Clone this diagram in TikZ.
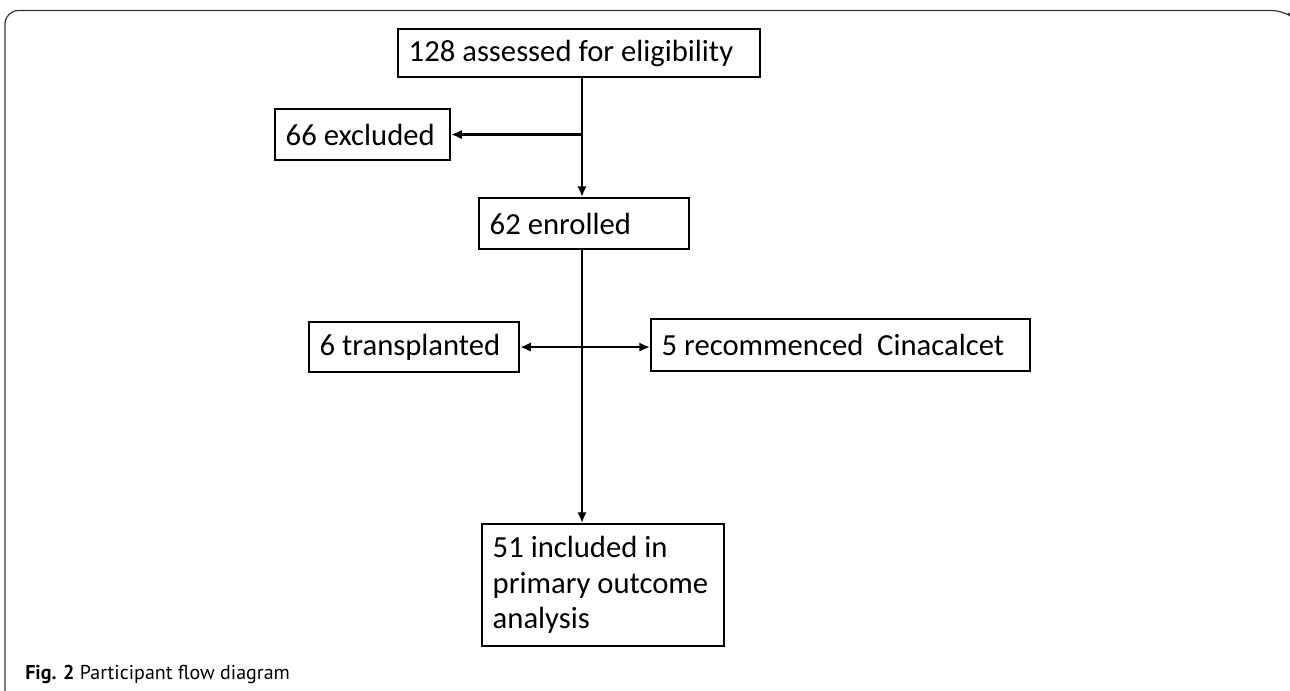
\documentclass[tikz,border=0pt]{standalone}
\usepackage{fontspec}
\setmainfont{Carlito}
\newfontfamily\capfont{PT Sans}
\usetikzlibrary{arrows.meta}
\newcommand\lbox[2]{\makebox[#1][l]{#2}}
\begin{document}
\begin{tikzpicture}[x=0.75pt,y=-0.75pt,
  fbox/.style={draw, line width=1.6pt, anchor=north west, inner xsep=8pt, inner ysep=0pt,
    font=\fontsize{23}{26.5}\selectfont},
  conn/.style={line width=1.6pt},
  tip/.style={-{Latex[length=8pt,width=7pt]}}
]
\useasboundingbox (0,0) rectangle (1290,691);
\draw[line width=0.9pt, black!80, rounded corners=10pt] (5,691) -- (5,10.5) -- (1285,10.5) -- (1288,13);
\node[fbox, minimum width=271.5pt, minimum height=36pt] (elig) at (397,28) {\lbox{255.5pt}{128 assessed for eligibility}};
\node[fbox, minimum width=131.25pt, minimum height=38.25pt] (excl) at (274,108) {\lbox{115.25pt}{66 excluded}};
\node[fbox, minimum width=157.5pt, minimum height=38.25pt] (enr) at (478,197) {\lbox{141.5pt}{62 enrolled}};
\node[fbox, minimum width=157.5pt, minimum height=37.5pt] (trans) at (308,321) {\lbox{141.5pt}{6 transplanted}};
\node[fbox, minimum width=284.25pt, minimum height=39pt] (rec) at (650,318) {\lbox{268.25pt}{5 recommenced\ \ Cinacalcet}};
\node[fbox, minimum width=181.5pt, minimum height=91.5pt, align=left] (incl) at (481,523) {\lbox{165.5pt}{51 included in}\\\lbox{165.5pt}{primary outcome}\\\lbox{165.5pt}{analysis}};
\coordinate (spine) at (582,0);
\draw[conn, tip] (elig.south -| spine) -- (enr.north -| spine);
\draw[conn, tip] (spine |- excl.east) -- (excl.east);
\draw[conn, tip] (enr.south -| spine) -- (incl.north -| spine);
\draw[conn, {Latex[length=8pt,width=7pt]}-{Latex[length=8pt,width=7pt]}] (trans.east) -- (rec.west |- trans.east);
\node[anchor=base west, inner sep=0pt, font=\capfont\fontsize{15}{17}\selectfont] (cap) at (25,680) {\textbf{Fig. 2} Participant flow diagram};
\end{tikzpicture}
\end{document}
